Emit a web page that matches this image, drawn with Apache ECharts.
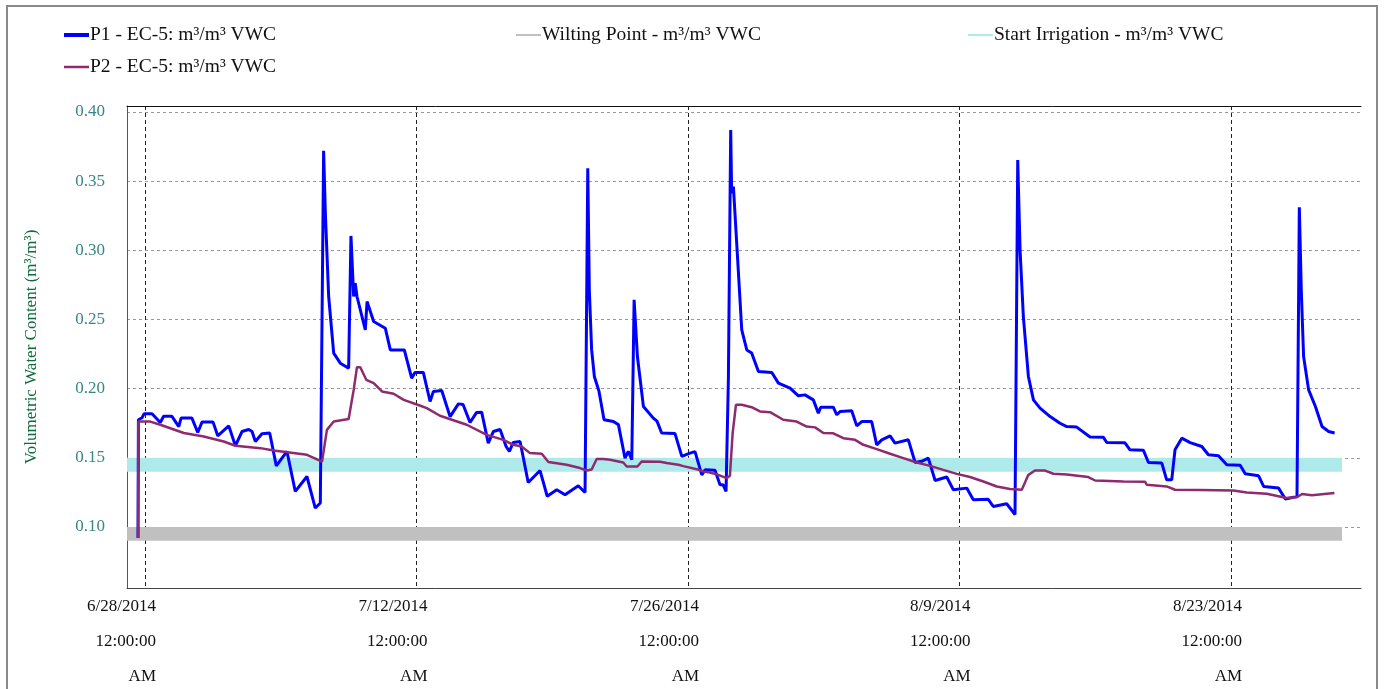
<!DOCTYPE html>
<html>
<head>
<meta charset="utf-8">
<title>VWC</title>
<script src="https://cdn.jsdelivr.net/npm/echarts@6/dist/echarts.min.js"></script>
<style>
  html, body { margin: 0; padding: 0; background: #fff; }
  #chart { width: 1384px; height: 689px; }
</style>
</head>
<body>
<div id="chart"></div>
<script>
// day offsets from 6/28/2014 00:00
const p1Days = [-0.36, -0.34, -0.15, -0.05, 0.36, 0.79, 0.96, 1.39, 1.74, 1.86, 2.42, 2.72, 2.94, 3.51, 3.75, 4.32,
  4.66, 5.00, 5.35, 5.52, 5.69, 6.03, 6.43, 6.77, 7.32, 7.75, 8.35, 8.78, 9.04, 9.21, 9.30, 9.47, 9.73, 10.07, 10.50,
  10.62, 10.76, 10.84, 10.93, 11.36, 11.45, 11.79, 12.39, 12.65, 13.37, 13.75, 13.92, 14.35, 14.70, 14.87, 15.30,
  15.73, 16.16, 16.40, 16.76, 17.10, 17.36, 17.70, 17.96, 18.31, 18.62, 18.79, 18.99, 19.34, 19.76, 20.37, 20.74,
  21.23, 21.66, 22.34, 22.69, 22.83, 22.91, 23.03, 23.17, 23.41, 23.67, 24.15, 24.41, 24.75, 24.92, 25.10, 25.22,
  25.39, 25.70, 26.21, 26.40, 26.64, 27.33, 27.68, 28.10, 28.36, 28.71, 28.88, 29.39, 29.65, 29.81, 29.96, 30.08,
  30.20, 30.25, 30.34, 30.59, 30.77, 31.03, 31.28, 31.63, 32.32, 32.66, 33.26, 33.69, 34.03, 34.46, 34.72, 34.84,
  35.49, 35.67, 35.84, 36.44, 36.70, 36.96, 37.47, 37.73, 37.99, 38.42, 38.67, 39.36, 39.71, 40.05, 40.39, 40.74,
  41.34, 41.68, 42.37, 42.71, 43.48, 43.74, 44.43, 44.86, 45.00, 45.12, 45.29, 45.55, 45.81, 46.15, 46.67, 47.18,
  47.53, 48.04, 48.73, 49.42, 49.59, 50.53, 50.79, 51.48, 51.74, 52.43, 52.68, 52.94, 53.11, 53.46, 53.89, 54.49,
  54.83, 55.35, 55.78, 56.47, 56.73, 57.42, 57.68, 58.45, 58.80, 59.05, 59.40, 59.52, 59.62, 59.74, 60.00, 60.35,
  60.69, 61.03, 61.34];
const p1Vals = [0.092, 0.1775, 0.179, 0.1818, 0.1818, 0.1755, 0.180, 0.180, 0.1726, 0.1787, 0.1787, 0.1683, 0.1758,
  0.1758, 0.1659, 0.1731, 0.1587, 0.169, 0.1705, 0.169, 0.1618, 0.1674, 0.1679, 0.1442, 0.1546, 0.1257, 0.1365,
  0.1137, 0.1173, 0.372, 0.3268, 0.2666, 0.2257, 0.2184, 0.2148, 0.3104, 0.2666, 0.2762, 0.2666, 0.2425, 0.263,
  0.2485, 0.2437, 0.228, 0.228, 0.2076, 0.2117, 0.2117, 0.1907, 0.198, 0.1987, 0.1798, 0.189, 0.1885, 0.1755,
  0.1828, 0.183, 0.1606, 0.169, 0.1705, 0.1582, 0.1546, 0.1611, 0.1618, 0.1322, 0.1408, 0.1222, 0.1269, 0.1233,
  0.1298, 0.1249, 0.3593, 0.2714, 0.228, 0.2088, 0.198, 0.1775, 0.1762, 0.174, 0.1498, 0.1546, 0.1486, 0.2642,
  0.2232, 0.1871, 0.1787, 0.1765, 0.1679, 0.1675, 0.151, 0.1534, 0.1545, 0.1377, 0.1413, 0.141, 0.1305, 0.1305,
  0.1257, 0.2064, 0.387, 0.3413, 0.346, 0.2858, 0.2425, 0.228, 0.2257, 0.2124, 0.2117, 0.204, 0.2004, 0.1948,
  0.1955, 0.1919, 0.1823, 0.1866, 0.1866, 0.1811, 0.1835, 0.184, 0.1731, 0.1762, 0.1762, 0.1594, 0.163, 0.1659,
  0.1606, 0.163, 0.1466, 0.1475, 0.1498, 0.1336, 0.1361, 0.1269, 0.1281, 0.1197, 0.120, 0.1148, 0.1168, 0.109,
  0.3653, 0.3003, 0.2521, 0.2088, 0.1919, 0.1859, 0.1798, 0.175, 0.1726, 0.1722, 0.165, 0.1648, 0.1611, 0.1608,
  0.1558, 0.1555, 0.1466, 0.1462, 0.1341, 0.1341, 0.1558, 0.1642, 0.161, 0.1582, 0.1522, 0.1515, 0.145, 0.1446,
  0.1385, 0.137, 0.1293, 0.1281, 0.1202, 0.1209, 0.1221, 0.3311, 0.2714, 0.2232, 0.1991, 0.1871, 0.1726, 0.169,
  0.1679];

const p2Days = [-0.36, -0.34, 0.27, 0.79, 2.00, 3.03, 4.06, 4.66, 5.95, 6.64, 8.35, 9.13, 9.38, 9.73, 10.50, 10.76,
  10.93, 11.10, 11.41, 11.79, 12.22, 12.82, 13.34, 14.20, 14.53, 15.21, 16.59, 17.62, 18.48, 18.99, 19.42, 19.85,
  20.46, 20.80, 21.74, 22.43, 22.78, 23.03, 23.29, 23.63, 23.98, 24.66, 24.84, 25.39, 25.61, 26.56, 26.90, 27.50,
  27.76, 28.45, 28.79, 29.13, 29.56, 29.99, 30.16, 30.30, 30.47, 30.77, 31.28, 31.71, 32.23, 32.91, 33.60, 34.12,
  34.55, 34.98, 35.49, 36.01, 36.61, 37.04, 37.73, 38.42, 39.10, 39.79, 40.48, 41.16, 41.86, 42.54, 43.23, 43.92,
  44.60, 45.21, 45.55, 45.89, 46.41, 46.84, 47.53, 48.64, 48.99, 50.45, 51.57, 51.65, 52.68, 53.11, 54.40, 56.12,
  56.81, 57.84, 58.87, 59.40, 59.66, 60.17, 61.33];
const p2Vals = [0.092, 0.1762, 0.1762, 0.1739, 0.1679, 0.1654, 0.1618, 0.1587, 0.157, 0.1553, 0.1522, 0.1473,
  0.1702, 0.1762, 0.178, 0.1991, 0.2155, 0.2155, 0.2064, 0.204, 0.198, 0.1963, 0.1919, 0.1876, 0.1859, 0.1804,
  0.1739, 0.1666, 0.163, 0.1594, 0.1582, 0.1534, 0.153, 0.1469, 0.145, 0.1426, 0.1408, 0.1415, 0.1491, 0.1491,
  0.1486, 0.1466, 0.1437, 0.1437, 0.1473, 0.1472, 0.1462, 0.145, 0.144, 0.1418, 0.1401, 0.1394, 0.1377, 0.1353,
  0.137, 0.1679, 0.1883, 0.1883, 0.1866, 0.1835, 0.183, 0.1775, 0.1762, 0.1726, 0.172, 0.1679, 0.1677, 0.1642,
  0.163, 0.1594, 0.1563, 0.1529, 0.1498, 0.1466, 0.1442, 0.1413, 0.1384, 0.1361, 0.1329, 0.1293, 0.1274, 0.1269,
  0.1377, 0.1408, 0.1408, 0.1385, 0.138, 0.1361, 0.1336, 0.1329, 0.1327, 0.1305, 0.1293, 0.1269, 0.1268, 0.1264,
  0.1249, 0.124, 0.1209, 0.1215, 0.1238, 0.123, 0.1245];

const wiltingBand = [0.09, 0.10];
const irrigationBand = [0.14, 0.15];
const bandDays = [-0.93, 61.72];

const tickDays = [0, 14, 28, 42, 56];
const yTicks = [0.10, 0.15, 0.20, 0.25, 0.30, 0.35, 0.40];

const DAY = 86400000;
const base = new Date(2014, 5, 28).getTime();
const zip = (xs, ys) => xs.map((d, i) => [d, ys[i]]);

const FONT = '"Liberation Serif", "Times New Roman", serif';
const labelShift = 0.567; // labels sit right-aligned a little past each tick (days)

const chart = echarts.init(document.getElementById('chart'));

function band(range, color) {
  return {
    silent: true,
    itemStyle: { color: color },
    data: [[
      { xAxis: bandDays[0], yAxis: range[0] },
      { xAxis: bandDays[1], yAxis: range[1] }
    ]]
  };
}

const legendText = { fontFamily: FONT, fontSize: 19.5, color: '#111', lineHeight: 20, padding: [0, 0, 0, -4] };
const legendBase = {
  padding: 0, top: 25, itemWidth: 25, itemHeight: 20,
  itemStyle: { opacity: 0 },
  textStyle: legendText
};

chart.setOption({
  animation: false,
  graphic: [{
    type: 'rect',
    shape: { x: 7, y: 6, width: 1370, height: 720 },
    style: { fill: 'none', stroke: '#8a8a8a', lineWidth: 2 },
    silent: true
  }],
  legend: [
    Object.assign({}, legendBase, {
      data: [
        { name: 'P1 - EC-5: m³/m³ VWC', lineStyle: { width: 4 } },
        { name: 'P2 - EC-5: m³/m³ VWC', lineStyle: { width: 2.5 } }
      ],
      orient: 'vertical', left: 62, itemGap: 12
    }),
    Object.assign({}, legendBase, { data: ['Wilting Point - m³/m³ VWC'], left: 515 }),
    Object.assign({}, legendBase, { data: ['Start Irrigation - m³/m³ VWC'], left: 967 })
  ],
  grid: { left: 127, right: 23, top: 106, bottom: 101, outerBoundsMode: 'none' },
  xAxis: [
    {
      type: 'value',
      min: -0.928,
      max: 62.70,
      axisLine: { onZero: false, lineStyle: { color: '#444', width: 1 } },
      axisTick: { show: false, customValues: tickDays },
      splitLine: { show: true, lineStyle: { color: '#222', type: [4, 3], width: 1 } },
      axisLabel: {
        customValues: tickDays.map(t => t + labelShift),
        formatter: v => {
          const d = new Date(base + Math.round(v - labelShift) * DAY);
          return (d.getMonth() + 1) + '/' + d.getDate() + '/' + d.getFullYear() + '\n12:00:00\nAM';
        },
        align: 'right',
        lineHeight: 35,
        margin: 1,
        fontFamily: FONT,
        fontSize: 17,
        color: '#111'
      }
    },
    {
      type: 'value', position: 'top', min: 0, max: 1,
      axisLine: { show: true, onZero: false, lineStyle: { color: '#111', width: 1 } },
      axisTick: { show: false }, axisLabel: { show: false }, splitLine: { show: false }
    }
  ],
  yAxis: {
    type: 'value',
    min: 0.0559,
    max: 0.4043,
    name: 'Volumetric Water Content (m³/m³)',
    nameLocation: 'middle',
    nameGap: 87,
    nameTextStyle: { fontFamily: FONT, fontSize: 17, color: '#0d6b3c' },
    axisLine: { show: true, onZero: false, lineStyle: { color: '#555', width: 1 } },
    axisTick: { show: false, customValues: yTicks },
    splitLine: { show: true, lineStyle: { color: '#999', type: [3, 3], width: 1 } },
    axisLabel: {
      customValues: yTicks,
      formatter: v => v.toFixed(2),
      margin: 22,
      fontFamily: FONT,
      fontSize: 17,
      color: '#3a8585'
    }
  },
  series: [
    {
      name: 'Wilting Point - m³/m³ VWC',
      type: 'line', data: [], symbol: 'none', z: 1,
      color: '#c0c0c0', lineStyle: { width: 1 },
      markArea: band(wiltingBand, '#c0c0c0')
    },
    {
      name: 'Start Irrigation - m³/m³ VWC',
      type: 'line', data: [], symbol: 'none', z: 1,
      color: '#aeeaea', lineStyle: { width: 1 },
      markArea: band(irrigationBand, '#aeeaea')
    },
    {
      name: 'P1 - EC-5: m³/m³ VWC',
      type: 'line', symbol: 'none', z: 3,
      color: '#0000ff', lineStyle: { width: 3 },
      data: zip(p1Days, p1Vals)
    },
    {
      name: 'P2 - EC-5: m³/m³ VWC',
      type: 'line', symbol: 'none', z: 4,
      color: '#8e2b6e', lineStyle: { width: 2.5 },
      data: zip(p2Days, p2Vals)
    }
  ]
});
</script>
</body>
</html>
